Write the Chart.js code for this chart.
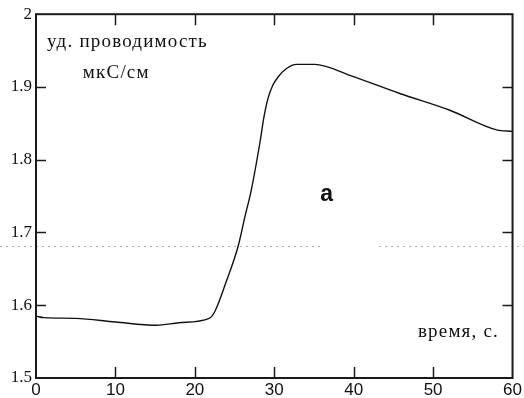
<!DOCTYPE html>
<html>
<head>
<meta charset="utf-8">
<script src="https://cdn.jsdelivr.net/npm/chart.js@4"></script>
<style>
  html, body { margin: 0; padding: 0; background: #fff; }
  canvas { display: block; }
</style>
</head>
<body>
<canvas id="grafico" width="524" height="398"></canvas>
<script>
// время, с.
var vremya = [0, 1, 5, 10, 15.2, 18, 21.8, 22.5, 24, 25.45, 26.3, 27.1, 28.2, 28.7, 29.2, 29.8, 30.5, 31.5, 32.8, 35.1, 39.5, 45.8, 52.1, 58, 60];
// уд. проводимость, мкС/см
var provodimost = [1.585, 1.583, 1.582, 1.577, 1.5725, 1.576, 1.582, 1.591, 1.634, 1.681, 1.7215, 1.758, 1.824, 1.859, 1.884, 1.902, 1.914, 1.925, 1.931, 1.931, 1.916, 1.891, 1.868, 1.841, 1.839];
var ticksX = [10, 20, 30, 40, 50];
var ticksY = [1.6, 1.7, 1.8, 1.9];
var nivel = 1.681; // пунктирная линия
var rotulos = {
    eixoY1: 'уд. проводимость',
    eixoY2: 'мкС/см',
    eixoX: 'время, с.',
    marca: 'a'
};

var pontos = vremya.map(function (t, i) { return { x: t, y: provodimost[i] }; });

var moldura = {
    id: 'moldura',
    afterDraw: function (chart) {
        var ctx = chart.ctx;
        var area = chart.chartArea;
        var sx = chart.scales.x, sy = chart.scales.y;
        ctx.save();

        // пунктир
        ctx.strokeStyle = '#b0b0b0';
        ctx.lineWidth = 1;
        ctx.setLineDash([2, 4]);
        var yn = Math.round(sy.getPixelForValue(nivel)) + 0.5;
        ctx.beginPath();
        ctx.moveTo(0, yn);
        ctx.lineTo(sx.getPixelForValue(36), yn);
        ctx.moveTo(sx.getPixelForValue(43.2), yn);
        ctx.lineTo(chart.width, yn);
        ctx.stroke();
        ctx.setLineDash([]);

        // рамка
        ctx.strokeStyle = '#1a1a1a';
        ctx.lineWidth = 2;
        ctx.strokeRect(area.left, area.top, area.right - area.left, area.bottom - area.top);

        // засечки внутрь
        ctx.lineWidth = 1.5;
        ctx.beginPath();
        ticksX.forEach(function (v) {
            var px = Math.round(sx.getPixelForValue(v)) + 0.5;
            ctx.moveTo(px, area.bottom); ctx.lineTo(px, area.bottom - 11);
            ctx.moveTo(px, area.top); ctx.lineTo(px, area.top + 11);
        });
        ticksY.forEach(function (v) {
            var py = Math.round(sy.getPixelForValue(v)) + 0.5;
            ctx.moveTo(area.left, py); ctx.lineTo(area.left + 10, py);
            ctx.moveTo(area.right, py); ctx.lineTo(area.right - 10, py);
        });
        ctx.stroke();

        // подписи
        ctx.fillStyle = '#111';
        ctx.textBaseline = 'alphabetic';
        ctx.font = '19px "Liberation Serif"';
        ctx.letterSpacing = '1.2px';
        ctx.textAlign = 'left';
        ctx.fillText(rotulos.eixoY1, sx.getPixelForValue(1.4), sy.getPixelForValue(1.955));
        ctx.fillText(rotulos.eixoY2, sx.getPixelForValue(5.9), sy.getPixelForValue(1.913));
        ctx.textAlign = 'right';
        ctx.fillText(rotulos.eixoX, sx.getPixelForValue(58.3), sy.getPixelForValue(1.556));
        ctx.letterSpacing = '0px';
        ctx.textAlign = 'center';
        ctx.font = 'bold 23px "Liberation Sans Narrow", "Liberation Sans"';
        ctx.fillText(rotulos.marca, sx.getPixelForValue(36.6), sy.getPixelForValue(1.743));
        ctx.restore();
    }
};

new Chart(document.getElementById('grafico'), {
    type: 'scatter',
    data: {
        datasets: [{
            data: pontos,
            showLine: true,
            borderColor: '#111',
            borderWidth: 1.4,
            pointRadius: 0,
            cubicInterpolationMode: 'monotone'
        }]
    },
    options: {
        responsive: false,
        animation: false,
        layout: { padding: { top: 14, right: 11, left: 0, bottom: 0 } },
        plugins: { legend: { display: false }, tooltip: { enabled: false } },
        scales: {
            x: {
                type: 'linear', min: 0, max: 60,
                grid: { display: false, drawTicks: false }, border: { display: false },
                ticks: {
                    stepSize: 10, padding: 2, color: '#111',
                    font: { family: '"Liberation Sans Narrow", "Liberation Sans"', size: 17 }
                },
                afterFit: function (eixo) { eixo.height = 20; }
            },
            y: {
                min: 1.5, max: 2,
                grid: { display: false, drawTicks: false }, border: { display: false },
                ticks: {
                    stepSize: 0.1, padding: 4, color: '#111',
                    font: { family: '"Liberation Serif"', size: 17 },
                    callback: function (v) { return String(Math.round(v * 10) / 10); }
                },
                afterFit: function (eixo) { eixo.width = 36; }
            }
        }
    },
    plugins: [moldura]
});
</script>
</body>
</html>
